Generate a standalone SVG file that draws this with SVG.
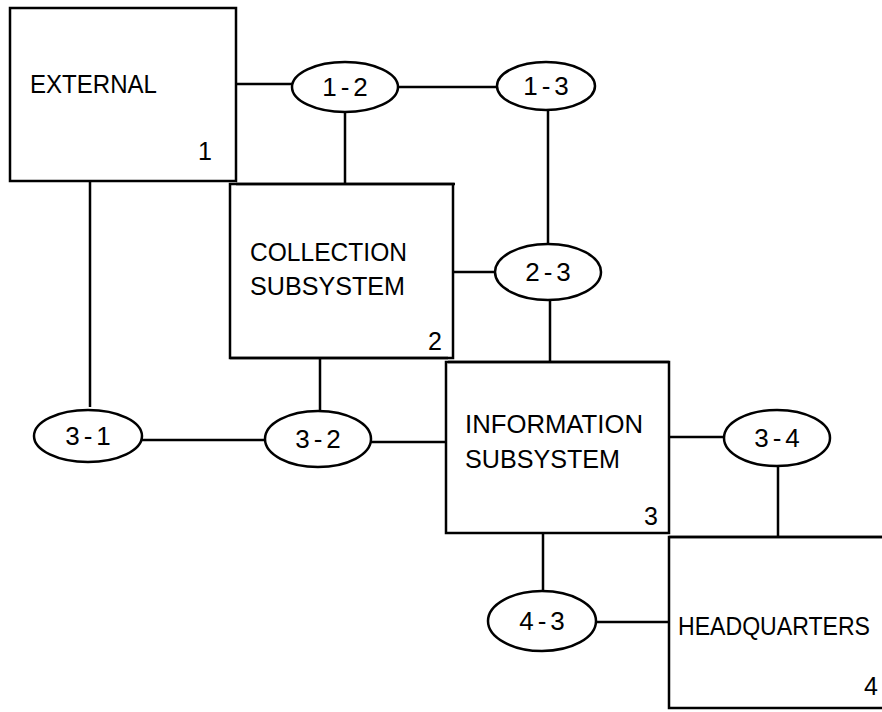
<svg xmlns="http://www.w3.org/2000/svg" width="882" height="712" viewBox="0 0 882 712">
<style>
.b{fill:none;stroke:#000;stroke-width:2.5}
.e{fill:#fff;stroke:#000;stroke-width:2.5}
.c{fill:none;stroke:#000;stroke-width:2.5}
text{font-family:"Liberation Sans","DejaVu Sans",sans-serif;font-size:25px;fill:#000}
.l{font-size:26px;text-anchor:middle;letter-spacing:4px}
</style>
<rect width="882" height="712" fill="#fff"/>
<g id="connectors">
<path class="c" d="M236 84H292M398 87H497M345 112V184M236 184H455M548 110V245M453 272H495M550 301V362M90 181V407M142 440H265M320 358V411M371 442H446M230 358H448M448 362H669M669 437H724M778 466V537M669 537H882M543 533V591M596 622H669"/>
</g>
<g id="n1"><rect class="b" x="10" y="8" width="226" height="173"/><text x="30" y="93" textLength="127" lengthAdjust="spacingAndGlyphs">EXTERNAL</text><text x="198" y="160">1</text></g>
<g id="n2"><rect class="b" x="230" y="184" width="223" height="174"/><text x="250" y="261" textLength="157" lengthAdjust="spacingAndGlyphs">COLLECTION</text><text x="250" y="295" textLength="155" lengthAdjust="spacingAndGlyphs">SUBSYSTEM</text><text x="428" y="350">2</text></g>
<g id="n3"><rect class="b" x="446" y="362" width="223" height="171"/><text x="465" y="433" textLength="178" lengthAdjust="spacingAndGlyphs">INFORMATION</text><text x="465" y="468" textLength="155" lengthAdjust="spacingAndGlyphs">SUBSYSTEM</text><text x="644" y="525">3</text></g>
<g id="n4"><path class="b" d="M882 537H669V708H882"/><text x="678" y="635" font-size="23" textLength="192" lengthAdjust="spacingAndGlyphs">HEADQUARTERS</text><text x="864" y="695">4</text></g>
<g id="e12"><ellipse class="e" cx="345" cy="87" rx="53" ry="25"/><text class="l" x="347" y="96">1-2</text></g>
<g id="e13"><ellipse class="e" cx="546" cy="86" rx="49" ry="24"/><text class="l" x="548" y="95">1-3</text></g>
<g id="e23"><ellipse class="e" cx="548" cy="272" rx="53" ry="28"/><text class="l" x="550" y="281">2-3</text></g>
<g id="e31"><ellipse class="e" cx="88" cy="436" rx="54" ry="26"/><text class="l" x="90" y="445">3-1</text></g>
<g id="e32"><ellipse class="e" cx="318" cy="439" rx="53" ry="28"/><text class="l" x="320" y="448">3-2</text></g>
<g id="e34"><ellipse class="e" cx="777" cy="438" rx="53" ry="28"/><text class="l" x="779" y="447">3-4</text></g>
<g id="e43"><ellipse class="e" cx="542" cy="621" rx="54" ry="30"/><text class="l" x="544" y="630">4-3</text></g>
</svg>
